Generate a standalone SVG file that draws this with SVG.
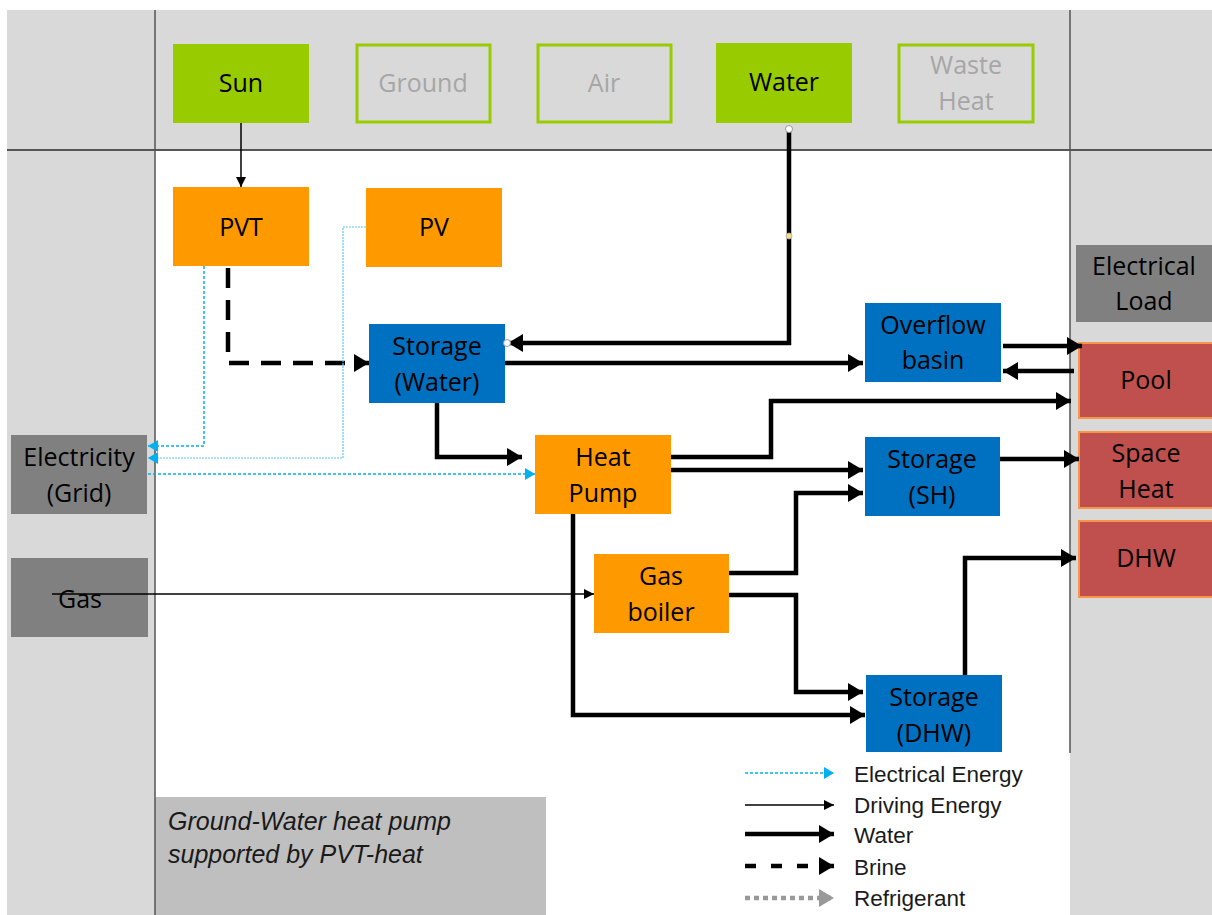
<svg xmlns="http://www.w3.org/2000/svg" width="1212" height="915" viewBox="0 0 1212 915">
<style>
.t{font-family:"Open Sans","Liberation Sans",sans-serif;font-size:25px;text-anchor:middle;fill:#000}
.tg{font-family:"Open Sans","Liberation Sans",sans-serif;font-size:25px;text-anchor:middle;fill:#a6a6a6}
.lg{font-family:"Liberation Sans",Arial,sans-serif;font-size:22.5px;fill:#1a1a1a}
.cap{font-family:"Liberation Sans",Arial,sans-serif;font-size:25px;font-style:italic;fill:#1a1a1a}
.grn{fill:#99cc00}
.out{fill:none;stroke:#99cc00;stroke-width:3}
.org{fill:#ff9900}
.blu{fill:#0070c0}
.gry{fill:#808080}
.red{fill:#c0504d;stroke:#f79646;stroke-width:2}
.w{fill:none;stroke:#000;stroke-width:4.5}
.b{fill:none;stroke:#000;stroke-width:4.5;stroke-dasharray:20 12}
.d{fill:none;stroke:#000;stroke-width:1.5}
.e{fill:none;stroke:#00b0f0;stroke-width:1.5;stroke-dasharray:3 2}
.e2{fill:none;stroke:#5cc8f5;stroke-width:1.2;stroke-dasharray:2 1}
.r{fill:none;stroke:#999;stroke-width:4.5;stroke-dasharray:5 4}
</style>
<defs>
<marker id="mw" markerUnits="userSpaceOnUse" markerWidth="16" markerHeight="18" refX="15" refY="9" orient="auto"><path d="M0,0 L15,9 L0,18 z" fill="#000"/></marker>
<marker id="md" markerUnits="userSpaceOnUse" markerWidth="10" markerHeight="10" refX="10" refY="5" orient="auto"><path d="M0,0 L10,5 L0,10 z" fill="#000"/></marker>
<marker id="me" markerUnits="userSpaceOnUse" markerWidth="10" markerHeight="12" refX="10" refY="6" orient="auto"><path d="M0,0 L10,6 L0,12 z" fill="#00b0f0"/></marker>
<marker id="mr" markerUnits="userSpaceOnUse" markerWidth="16" markerHeight="18" refX="15" refY="9" orient="auto"><path d="M0,0 L15,9 L0,18 z" fill="#999"/></marker>
</defs>

<!-- background -->
<rect x="0" y="0" width="1212" height="915" fill="#fff"/>
<rect x="7" y="10" width="1205" height="140" fill="#d9d9d9"/>
<rect x="7" y="150" width="148" height="765" fill="#d9d9d9"/>
<rect x="1070" y="150" width="142" height="765" fill="#d9d9d9"/>
<rect x="155" y="797" width="391" height="118" fill="#bfbfbf"/>
<line x1="155" y1="10" x2="155" y2="915" stroke="#555" stroke-width="1.5"/>
<line x1="7" y1="150" x2="1212" y2="150" stroke="#555" stroke-width="2"/>
<line x1="1070" y1="10" x2="1070" y2="753" stroke="#555" stroke-width="1.5"/>

<text class="cap" x="168" y="830">Ground-Water heat pump</text>
<text class="cap" x="168" y="863">supported by PVT-heat</text>

<!-- nodes -->
<g id="sun"><rect class="grn" x="173" y="44" width="136" height="79"/><text class="t" x="241" y="92">Sun</text></g>
<g id="ground"><rect class="out" x="357" y="45" width="133" height="77"/><text class="tg" x="423" y="92">Ground</text></g>
<g id="air"><rect class="out" x="538" y="45" width="133" height="77"/><text class="tg" x="604" y="92">Air</text></g>
<g id="water"><rect class="grn" x="716" y="43" width="136" height="80"/><text class="t" x="784" y="91">Water</text></g>
<g id="waste"><rect class="out" x="899" y="45" width="134" height="77"/><text class="tg" x="966" y="74">Waste</text><text class="tg" x="966" y="110">Heat</text></g>

<g id="pvt"><rect class="org" x="173" y="187" width="136" height="79"/><text class="t" x="241" y="236">PVT</text></g>
<g id="pv"><rect class="org" x="366" y="188" width="136" height="79"/><text class="t" x="434" y="236">PV</text></g>
<g id="storage-water"><rect class="blu" x="369" y="324" width="136" height="79"/><text class="t" x="437" y="355">Storage</text><text class="t" x="437" y="391">(Water)</text></g>
<g id="overflow"><rect class="blu" x="865" y="303" width="136" height="79"/><text class="t" x="933" y="334">Overflow</text><text class="t" x="933" y="369">basin</text></g>
<g id="elec-load"><rect class="gry" x="1076" y="245" width="136" height="77"/><text class="t" x="1144" y="275">Electrical</text><text class="t" x="1144" y="310">Load</text></g>
<g id="pool"><rect class="red" x="1079" y="343" width="134" height="75"/><text class="t" x="1146" y="389">Pool</text></g>
<g id="space-heat"><rect class="red" x="1079" y="432" width="134" height="76"/><text class="t" x="1146" y="462">Space</text><text class="t" x="1146" y="498">Heat</text></g>
<g id="dhw"><rect class="red" x="1079" y="521" width="134" height="76"/><text class="t" x="1146" y="567">DHW</text></g>
<g id="grid"><rect class="gry" x="11" y="435" width="136" height="79"/><text class="t" x="79" y="466">Electricity</text><text class="t" x="79" y="502">(Grid)</text></g>
<g id="gas"><rect class="gry" x="11" y="558" width="137" height="79"/><text class="t" x="80" y="608">Gas</text></g>
<g id="heat-pump"><rect class="org" x="535" y="435" width="136" height="79"/><text class="t" x="603" y="466">Heat</text><text class="t" x="603" y="502">Pump</text></g>
<g id="gas-boiler"><rect class="org" x="594" y="554" width="135" height="79"/><text class="t" x="661" y="585">Gas</text><text class="t" x="661" y="621">boiler</text></g>
<g id="storage-sh"><rect class="blu" x="865" y="437" width="135" height="79"/><text class="t" x="932" y="468">Storage</text><text class="t" x="932" y="504">(SH)</text></g>
<g id="storage-dhw"><rect class="blu" x="866" y="675" width="136" height="77"/><text class="t" x="934" y="706">Storage</text><text class="t" x="934" y="742">(DHW)</text></g>

<!-- connectors -->
<g id="connectors">
<path class="d" d="M241,123 V187" marker-end="url(#md)"/>
<path class="w" d="M789,129 V343 H508" marker-end="url(#mw)"/>
<circle cx="789" cy="129" r="3.5" fill="#fff" stroke="#999" stroke-width="1"/>
<circle cx="789" cy="236" r="3" fill="#f2dc8c" stroke="#aaa" stroke-width="0.8"/>
<circle cx="507" cy="343" r="3.5" fill="#fff" stroke="#999" stroke-width="1"/>
<path class="w" d="M505,363 H863" marker-end="url(#mw)"/>
<path class="b" d="M228,268 V363 H369" marker-end="url(#mw)"/>
<path class="e" d="M204,266 V446 H148" marker-end="url(#me)"/>
<path class="e2" d="M366,227 H343 V458 H148" marker-end="url(#me)"/>
<path class="e" d="M148,474 H535" marker-end="url(#me)"/>
<path class="w" d="M437,403 V457 H522" marker-end="url(#mw)"/>
<path class="d" d="M52,594 H594" marker-end="url(#md)"/>
<path class="w" d="M671,457 H771 V401 H1071" marker-end="url(#mw)"/>
<path class="w" d="M671,470 H863" marker-end="url(#mw)"/>
<path class="w" d="M729,573 H796 V493 H863" marker-end="url(#mw)"/>
<path class="w" d="M729,595 H796 V692 H863" marker-end="url(#mw)"/>
<path class="w" d="M573,514 V715 H865" marker-end="url(#mw)"/>
<path class="w" d="M1000,459 H1079" marker-end="url(#mw)"/>
<path class="w" d="M965,675 V558 H1076" marker-end="url(#mw)"/>
<path class="w" d="M1003,346 H1082" marker-end="url(#mw)"/>
<path class="w" d="M1074,371 H1003" marker-end="url(#mw)"/>
</g>

<!-- legend -->
<g id="legend">
<path class="e" d="M745,773 H834" marker-end="url(#me)"/>
<path class="d" d="M745,805 H834" marker-end="url(#md)"/>
<path class="w" d="M745,834 H834" marker-end="url(#mw)"/>
<path class="b" d="M745,866 H834" marker-end="url(#mw)" style="stroke-dasharray:11 15"/>
<path class="r" d="M745,898 H834" marker-end="url(#mr)"/>
<text class="lg" x="854" y="782">Electrical Energy</text>
<text class="lg" x="854" y="813">Driving Energy</text>
<text class="lg" x="854" y="843">Water</text>
<text class="lg" x="854" y="875">Brine</text>
<text class="lg" x="854" y="906">Refrigerant</text>
</g>
</svg>
